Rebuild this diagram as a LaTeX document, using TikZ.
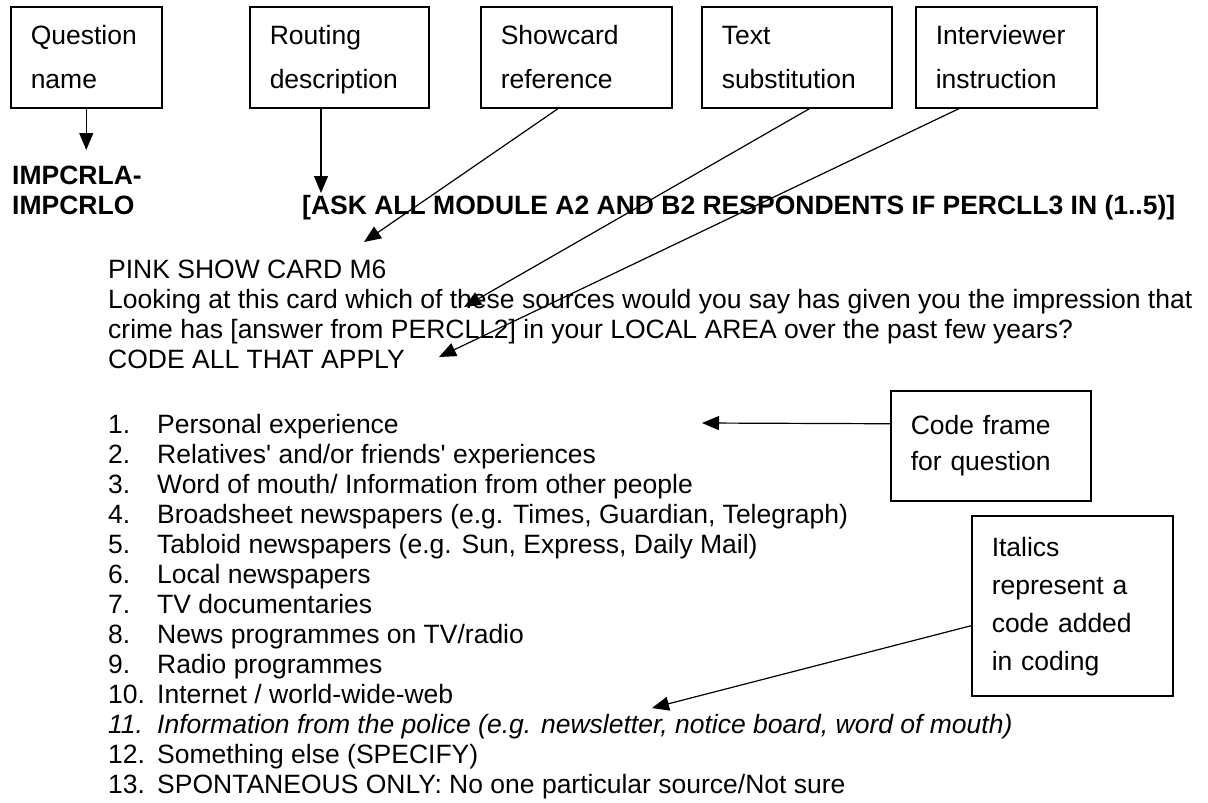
\documentclass[tikz,border=0pt]{standalone}
\usepackage{fontspec}
\setmainfont{Liberation Sans}
\usetikzlibrary{arrows.meta,positioning}

\tikzset{
  labelbox/.style={draw, line width=1.5pt, align=left, anchor=north west,
    inner xsep=20pt, inner ysep=0pt, text width=#1},
  arr/.style={line width=1.2pt, -{Triangle[length=17pt,width=14pt]}},
  body/.style={anchor=base west, inner sep=0pt, font=\fontsize{26.5}{30}\selectfont},
  head/.style={body, font=\fontsize{26.5}{30}\selectfont\bfseries},
}
\newcommand{\itm}[2]{\makebox[49pt][l]{#1}#2}

\begin{document}
\begin{tikzpicture}[x=1pt, y=-1pt]
        \useasboundingbox (0,0) rectangle (1208,803);

        % boxes along the top
        \begin{scope}[font=\fontsize{26.5}{44}\selectfont, minimum height=101pt]
            \node[labelbox=111] (qname) at (10,6) {\strut Question\\\strut name};
            \node[labelbox=139] (routing) at (249,6) {\strut Routing\\\strut description};
            \node[labelbox=151] (showcard) at (480,6) {\strut Showcard\\\strut reference};
            \node[labelbox=150] (textsub) at (701,6) {\strut Text\\\strut substitution};
            \node[labelbox=141] (instr) at (915,6) {\strut Interviewer\\\strut instruction};
        \end{scope}

        % boxes on the right
        \node[labelbox=160, minimum height=110pt, font=\fontsize{26.5}{36}\selectfont]
            (codebox) at (890,390) {\strut Code frame\\\strut for question};
        \node[labelbox=161, minimum height=180pt, font=\fontsize{26.5}{38}\selectfont]
            (italbox) at (971,515) {\strut Italics\\\strut represent a\\\strut code added\\\strut in coding};

        % question header
        \node[head] (qid1) at (12,184) {IMPCRLA-};
        \node[head] (qid2) at (12,214) {IMPCRLO};
        \node[head] (route) at (302,214)
            {[ASK ALL MODULE A2 AND B2 RESPONDENTS IF PERCLL3 IN (1..5)]};

        % question text
        \node[body] (card) at (108,278) {PINK SHOW CARD M6};
        \node[body] (q1) at (108,308)
            {Looking at this card which of these sources would you say has given you the impression that};
        \node[body] (q2) at (108,338)
            {crime has [answer from PERCLL2] in your LOCAL AREA over the past few years?};
        \node[body] (code) at (108,368) {CODE ALL THAT APPLY};

        % code frame
        \node[body] (i1) at (108,433) {\itm{1.}{Personal experience}};
        \node[body] (i2) at (108,463) {\itm{2.}{Relatives\textquotesingle{} and/or friends\textquotesingle{} experiences}};
        \node[body] (i3) at (108,493) {\itm{3.}{Word of mouth/ Information from other people}};
        \node[body] (i4) at (108,523) {\itm{4.}{Broadsheet newspapers (e.g. Times, Guardian, Telegraph)}};
        \node[body] (i5) at (108,553) {\itm{5.}{Tabloid newspapers (e.g. Sun, Express, Daily Mail)}};
        \node[body] (i6) at (108,583) {\itm{6.}{Local newspapers}};
        \node[body] (i7) at (108,613) {\itm{7.}{TV documentaries}};
        \node[body] (i8) at (108,643) {\itm{8.}{News programmes on TV/radio}};
        \node[body] (i9) at (108,673) {\itm{9.}{Radio programmes}};
        \node[body] (i10) at (108,703) {\itm{10.}{Internet / world-wide-web}};
        \node[body, font=\fontsize{26.5}{30}\selectfont\itshape] (i11) at (108,733)
            {\itm{11.}{Information from the police (e.g. newsletter, notice board, word of mouth)}};
        \node[body] (i12) at (108,763) {\itm{12.}{Something else (SPECIFY)}};
        \node[body] (i13) at (108,793) {\itm{13.}{SPONTANEOUS ONLY: No one particular source/Not sure}};

        % where the arrows end
        \coordinate (qtip) at (85,150);
        \coordinate (rtip) at (321,193);
        \coordinate (stip) at (364,242);
        \coordinate (ttip) at (464,307);
        \coordinate (itip) at (439,357);
        \coordinate (ctip) at (702,423);
        \coordinate (ktip) at (652,708);

        \begin{scope}[arr]
            \draw (qname.south) -- (qname.south |- qtip);
            \draw (routing.south -| rtip) -- (rtip);
            \draw ([xshift=-18pt]showcard.south) -- (stip);
            \draw ([xshift=13pt]textsub.south) -- (ttip);
            \draw ([xshift=-47pt]instr.south) -- (itip);
            \draw ([yshift=22pt]codebox.west) -- (ctip);
            \draw ([yshift=-20pt]italbox.west) -- (ktip);
        \end{scope}

\end{tikzpicture}
\end{document}
